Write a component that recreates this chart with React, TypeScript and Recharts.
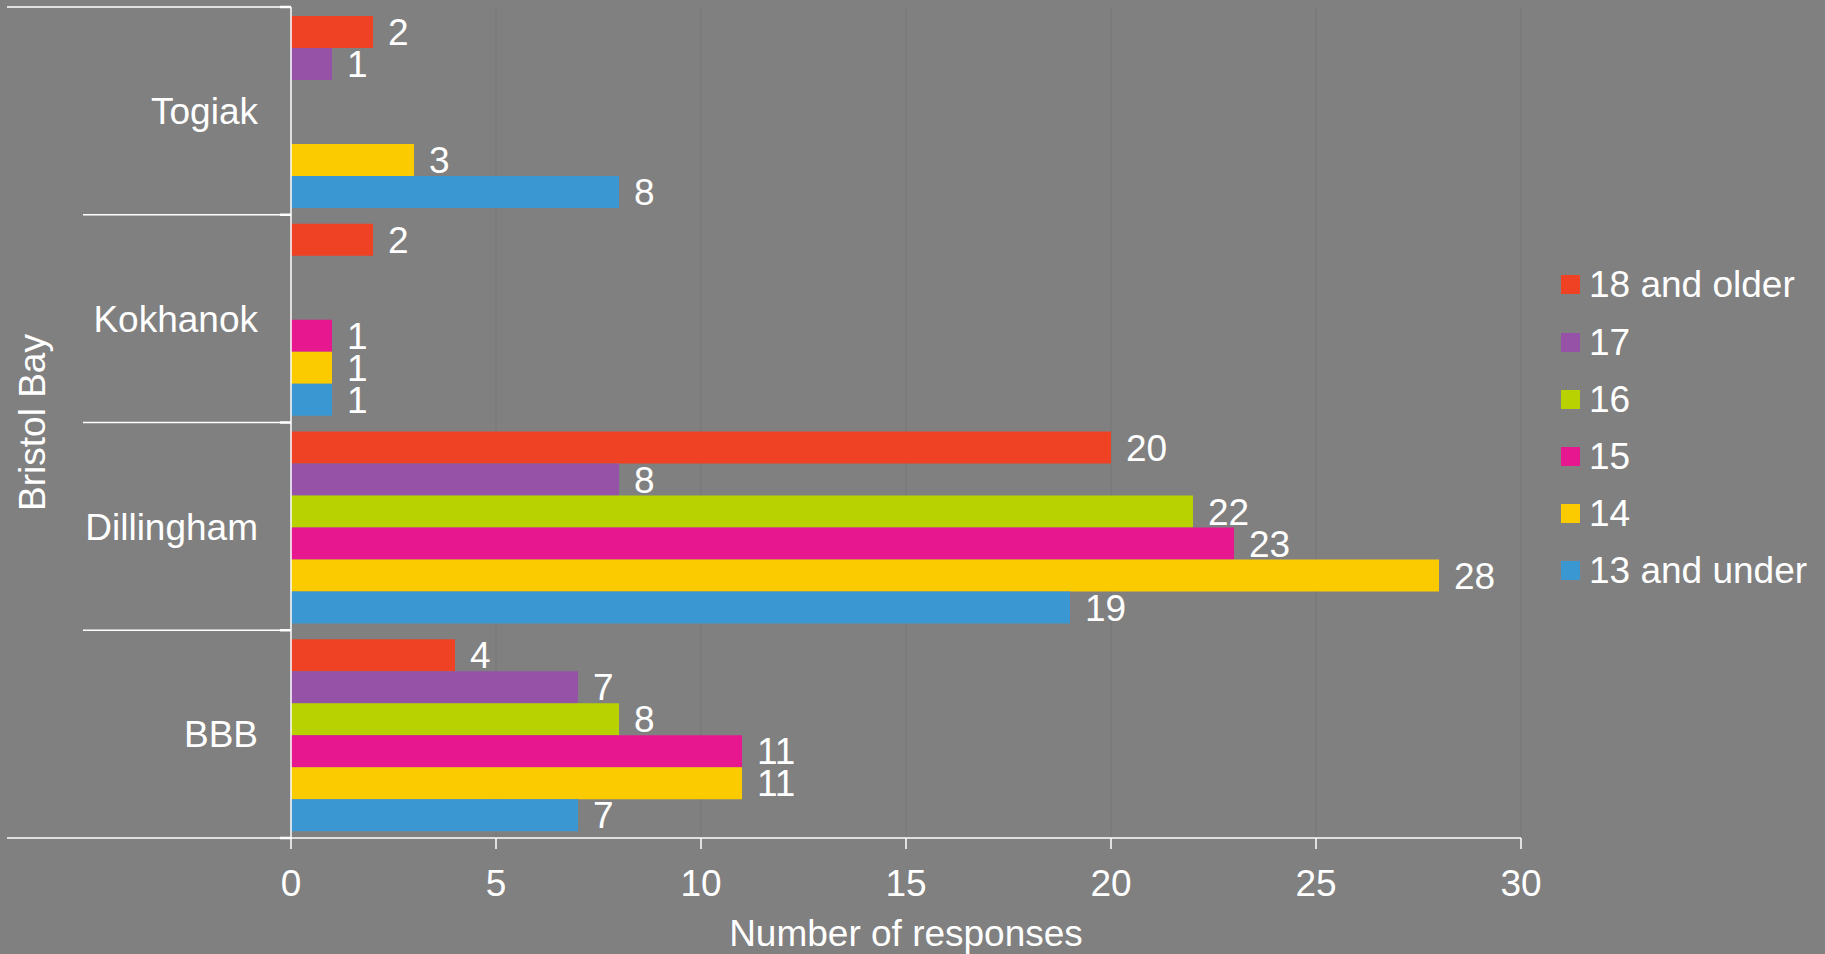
import React from 'react';
import { BarChart, Bar, XAxis, YAxis, CartesianGrid, Legend, LabelList, Label } from 'recharts';

const categories = ['Togiak', 'Kokhanok', 'Dillingham', 'BBB'];
const age18Plus = [2, 2, 20, 4];
const age17 = [1, null, 8, 7];
const age16 = [null, null, 22, 8];
const age15 = [null, 1, 23, 11];
const age14 = [3, 1, 28, 11];
const age13Under = [8, 1, 19, 7];
const xTicks = [0, 5, 10, 15, 20, 25, 30];

const series = [
  { key: 'a18', name: '18 and older', color: '#EF4123', values: age18Plus },
  { key: 'a17', name: '17', color: '#9652A6', values: age17 },
  { key: 'a16', name: '16', color: '#B8D100', values: age16 },
  { key: 'a15', name: '15', color: '#E6178F', values: age15 },
  { key: 'a14', name: '14', color: '#FBCB00', values: age14 },
  { key: 'a13', name: '13 and under', color: '#3A97D2', values: age13Under },
];

const data = categories.map((name, i) => {
  const row: Record<string, string | number | null> = { name };
  series.forEach((s) => {
    row[s.key] = s.values[i];
  });
  return row;
});

const W = 1825;
const H = 954;
const MARGIN = { top: 7, right: 304, bottom: 0, left: 0 };
const Y_AXIS_W = 291;
const X_AXIS_H = 116;
const TICK_MARGIN = 33;
const BAND = (H - MARGIN.top - MARGIN.bottom - X_AXIS_H) / categories.length;
const OUTER_X = 7;
const INNER_X = 83;
const FONT = 37;
const BG = '#808080';

const CategoryTick = (props: any) => {
  const { x, y, payload, index } = props;
  const axisX = x + TICK_MARGIN;
  const top = y - BAND / 2;
  const bottom = y + BAND / 2;
  const last = index === categories.length - 1;
  return (
    <g>
      <line x1={index === 0 ? OUTER_X : INNER_X} x2={axisX} y1={top} y2={top} stroke="#fff" strokeWidth={1.5} />
      <line x1={axisX - 11} x2={axisX} y1={top} y2={top} stroke="#fff" strokeWidth={2.5} />
      {last && (
        <>
          <line x1={OUTER_X} x2={axisX} y1={bottom} y2={bottom} stroke="#fff" strokeWidth={1.5} />
          <line x1={axisX - 11} x2={axisX} y1={bottom} y2={bottom} stroke="#fff" strokeWidth={2.5} />
        </>
      )}
      <text x={x} y={y} dy="0.355em" textAnchor="end" fill="#fff" fontSize={FONT}>
        {payload.value}
      </text>
    </g>
  );
};

const RegionLabel = (props: any) => {
  const vb = props.viewBox || { x: 0, y: MARGIN.top, width: Y_AXIS_W, height: BAND * 4 };
  const cx = vb.x + 31;
  const cy = vb.y + vb.height / 2;
  return (
    <text
      x={cx}
      y={cy}
      dy="0.37em"
      textAnchor="middle"
      fill="#fff"
      fontSize={FONT}
      transform={`rotate(-90, ${cx}, ${cy})`}
    >
      Bristol Bay
    </text>
  );
};

const AxisTitle = (props: any) => {
  const vb = props.viewBox || { x: Y_AXIS_W, y: H - X_AXIS_H, width: W - Y_AXIS_W - MARGIN.right, height: X_AXIS_H };
  return (
    <text x={vb.x + vb.width / 2} y={vb.y + 108} textAnchor="middle" fill="#fff" fontSize={FONT}>
      Number of responses
    </text>
  );
};

const renderLegend = () => (
  <div>
    {series.map((s) => (
      <div key={s.key} style={{ display: 'flex', alignItems: 'center', height: 57.2 }}>
        <span style={{ display: 'inline-block', width: 19, height: 19, background: s.color, marginRight: 9 }} />
        <span style={{ color: '#fff', fontSize: FONT, lineHeight: 1, whiteSpace: 'nowrap' }}>{s.name}</span>
      </div>
    ))}
  </div>
);

export default function App() {
  return (
    <div
      style={{
        position: 'absolute',
        left: 0,
        top: 0,
        width: W,
        height: H,
        background: BG,
        fontFamily: '"Liberation Sans", Arial, sans-serif',
      }}
    >
      <BarChart
        width={W}
        height={H}
        data={data}
        layout="vertical"
        margin={MARGIN}
        barCategoryGap="4.3%"
        barGap={0}
      >
        <CartesianGrid horizontal={false} stroke="#767676" strokeWidth={1} />
        <XAxis
          type="number"
          domain={[0, 30]}
          ticks={xTicks}
          interval={0}
          height={X_AXIS_H}
          axisLine={{ stroke: '#fff', strokeWidth: 1.5 }}
          tickLine={{ stroke: '#fff', strokeWidth: 1.5 }}
          tickSize={11}
          tickMargin={21}
          tick={{ fill: '#fff', fontSize: FONT }}
        >
          <Label content={AxisTitle} />
        </XAxis>
        <YAxis
          type="category"
          dataKey="name"
          width={Y_AXIS_W}
          axisLine={{ stroke: '#fff', strokeWidth: 1.5 }}
          tickLine={false}
          tickSize={0}
          tickMargin={TICK_MARGIN}
          interval={0}
          tick={<CategoryTick />}
        >
          <Label content={RegionLabel} />
        </YAxis>
        <Legend
          layout="vertical"
          align="center"
          verticalAlign="middle"
          content={renderLegend}
          wrapperStyle={{ left: 1561, top: 256.4 }}
        />
        {series.map((s) => (
          <Bar key={s.key} dataKey={s.key} name={s.name} fill={s.color} isAnimationActive={false}>
            <LabelList dataKey={s.key} position="right" offset={15} fill="#fff" fontSize={FONT} />
          </Bar>
        ))}
      </BarChart>
    </div>
  );
}
